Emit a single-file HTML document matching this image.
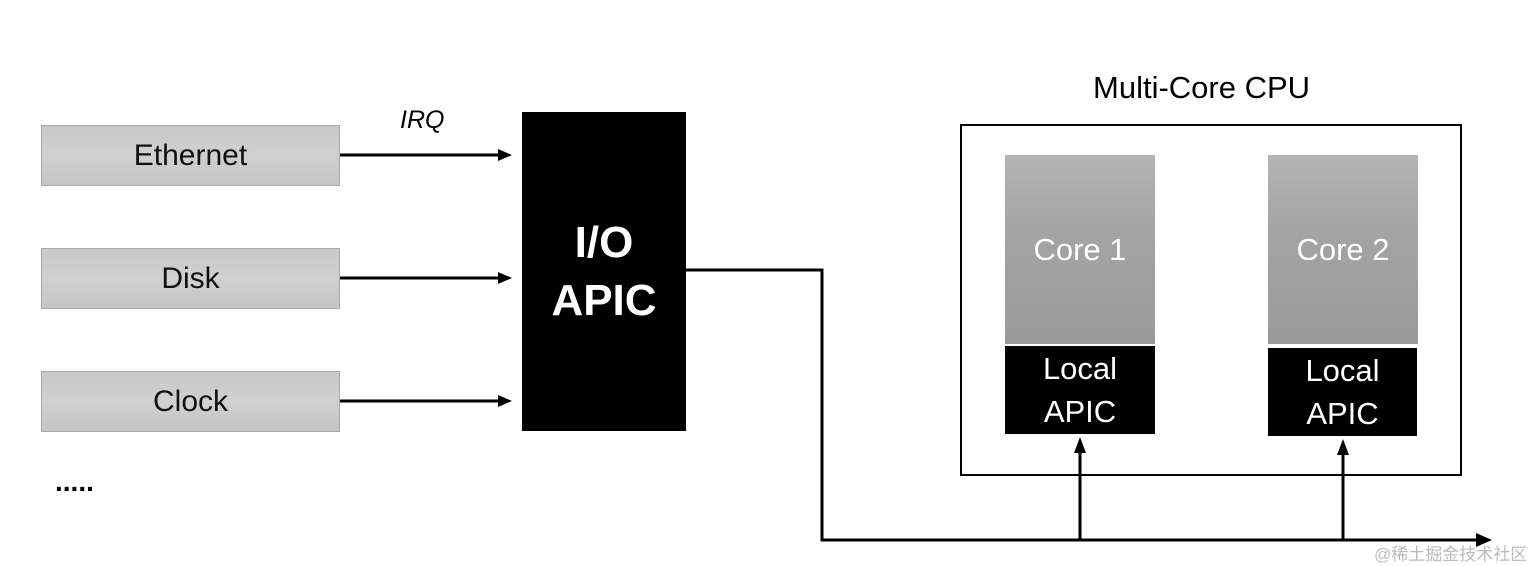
<!DOCTYPE html>
<html><head><style>
body{margin:0;background:#fff;width:1539px;height:566px;overflow:hidden;position:relative;font-family:"Liberation Sans",sans-serif}
.b{position:absolute;display:flex;align-items:center;justify-content:center;text-align:center}
.g{background:linear-gradient(#c8c8c8,#d0d0d0 50%,#c4c4c4);border:1px solid #aaa;font-size:30px;color:#111}
.k{background:#000;color:#fff}
.c{background:linear-gradient(#b4b4b4,#a4a4a4 40%,#9a9a9a);color:#fff;font-size:31px}
</style></head><body>
<div class="b g" style="left:41px;top:125px;width:297px;height:59px">Ethernet</div>
<div class="b g" style="left:41px;top:248px;width:297px;height:59px">Disk</div>
<div class="b g" style="left:41px;top:371px;width:297px;height:59px">Clock</div>
<div style="position:absolute;left:55px;top:466px;font-size:28px;font-weight:bold">.....</div>
<div style="position:absolute;left:400px;top:106px;font-size:25px;font-style:italic">IRQ</div>
<div class="b k" style="left:522px;top:112px;width:164px;height:319px;font-size:44px;font-weight:bold;line-height:1.3">I/O<br>APIC</div>
<div style="position:absolute;left:1093px;top:70px;font-size:31px">Multi-Core CPU</div>
<div style="position:absolute;left:960px;top:124px;width:498px;height:348px;border:2px solid #000"></div>
<div class="b c" style="left:1005px;top:155px;width:150px;height:189px">Core 1</div>
<div class="b k" style="left:1005px;top:346px;width:150px;height:88px;font-size:31px;line-height:1.4">Local<br>APIC</div>
<div class="b c" style="left:1268px;top:155px;width:150px;height:189px">Core 2</div>
<div class="b k" style="left:1268px;top:348px;width:149px;height:88px;font-size:31px;line-height:1.4">Local<br>APIC</div>
<svg width="1539" height="566" style="position:absolute;left:0;top:0">
<g stroke="#000" stroke-width="3" fill="none">
<line x1="340" y1="155" x2="500" y2="155"/>
<line x1="340" y1="278" x2="500" y2="278"/>
<line x1="340" y1="401" x2="500" y2="401"/>
<polyline points="686,270 822,270 822,540 1480,540"/>
<line x1="1080" y1="540" x2="1080" y2="452"/>
<line x1="1343" y1="540" x2="1343" y2="454"/>
</g>
<g fill="#000">
<polygon points="512,155 498,149 498,161"/>
<polygon points="512,278 498,272 498,284"/>
<polygon points="512,401 498,395 498,407"/>
<polygon points="1492,540 1476,533 1476,547"/>
<polygon points="1080,437 1074,453 1086,453"/>
<polygon points="1343,439 1337,455 1349,455"/>
</g>
</svg>
<div style="position:absolute;left:1374px;top:540px;font-size:17px;color:#bbb;font-family:'Liberation Sans','Noto Sans CJK SC',sans-serif">@稀土掘金技术社区</div>
</body></html>
